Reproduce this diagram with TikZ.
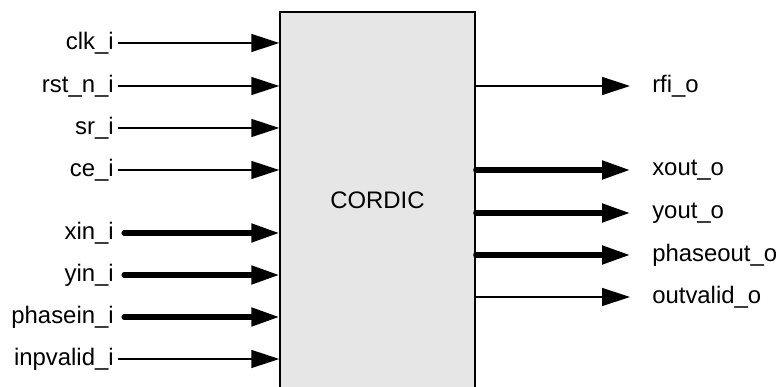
\documentclass[tikz,border=0pt]{standalone}
\usepackage{fontspec}
\setmainfont{Liberation Sans}
\usetikzlibrary{arrows.meta,positioning,calc}
\definecolor{boxgray}{HTML}{E6E6E6}
\tikzset{every picture/.style={>={Triangle[length=0.7cm,width=0.45cm]}}}

\begin{document}
\begin{tikzpicture}[
    every node/.style={font=\fontsize{17}{20}\selectfont},
    inlbl/.style={anchor=east,inner sep=0.1cm},
    outlbl/.style={anchor=west,inner sep=0.1cm},
    sig/.style={->,line width=1pt},
    bus/.style={->,line width=3.6pt,line cap=round}
]

\useasboundingbox (0,0) rectangle (19.5,9.675);

% ------------------------------------------------------------
% Block
% ------------------------------------------------------------
\node[draw,line width=1pt,fill=boxgray,minimum width=4.875cm,
      minimum height=9.43cm,inner sep=0] (cordic) at (9.4375,4.66) {CORDIC};

% ------------------------------------------------------------
% Inputs
% ------------------------------------------------------------
\node[inlbl] (clk)      at (2.95,8.6)   {clk\_i};
\node[inlbl] (rst)      at (2.95,7.525) {rst\_n\_i};
\node[inlbl] (sr)       at (2.95,6.475) {sr\_i};
\node[inlbl] (ce)       at (2.95,5.425) {ce\_i};
\node[inlbl] (xin)      at (2.95,3.85)  {xin\_i};
\node[inlbl] (yin)      at (2.95,2.8)   {yin\_i};
\node[inlbl] (phasein)  at (2.95,1.75)  {phasein\_i};
\node[inlbl] (inpvalid) at (2.95,0.7)   {inpvalid\_i};

\draw[sig] (clk.east) -- (clk.east -| cordic.west);
\draw[sig] (rst.east) -- (rst.east -| cordic.west);
\draw[sig] (sr.east) -- (sr.east -| cordic.west);
\draw[sig] (ce.east) -- (ce.east -| cordic.west);
\draw[bus,shorten <=0.15cm] (xin.east) -- (xin.east -| cordic.west);
\draw[bus,shorten <=0.15cm] (yin.east) -- (yin.east -| cordic.west);
\draw[bus,shorten <=0.15cm] (phasein.east) -- (phasein.east -| cordic.west);
\draw[sig] (inpvalid.east) -- (inpvalid.east -| cordic.west);

% ------------------------------------------------------------
% Outputs
% ------------------------------------------------------------
\node[outlbl] (rfi)      at (16.2,7.525) {rfi\_o};
\node[outlbl] (xout)     at (16.2,5.425) {xout\_o};
\node[outlbl] (yout)     at (16.2,4.35)  {yout\_o};
\node[outlbl] (phaseout) at (16.2,3.3)   {phaseout\_o};
\node[outlbl] (outvalid) at (16.2,2.25)  {outvalid\_o};

\draw[sig,shorten >=0.45cm] (rfi.west -| cordic.east) -- (rfi.west);
\draw[bus,shorten >=0.45cm] (xout.west -| cordic.east) -- (xout.west);
\draw[bus,shorten >=0.45cm] (yout.west -| cordic.east) -- (yout.west);
\draw[bus,shorten >=0.45cm] (phaseout.west -| cordic.east) -- (phaseout.west);
\draw[sig,shorten >=0.45cm] (outvalid.west -| cordic.east) -- (outvalid.west);

\end{tikzpicture}
\end{document}
